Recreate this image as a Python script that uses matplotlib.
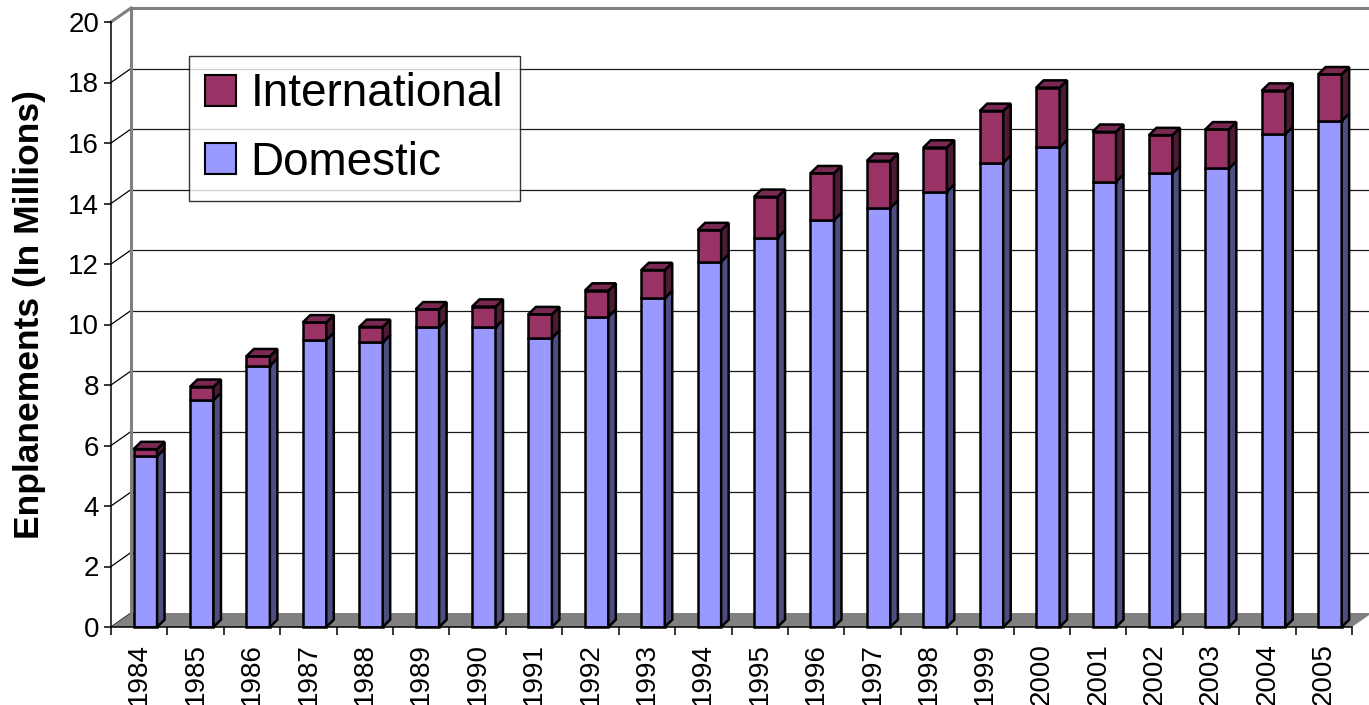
import matplotlib
matplotlib.use("Agg")
import matplotlib.pyplot as plt
from matplotlib.patches import Polygon, Rectangle, Patch
import numpy as np

# ---- data ----
years = [str(y) for y in range(1984, 2006)]
domestic = [5.65, 7.50, 8.64, 9.49, 9.41, 9.91, 9.91, 9.56, 10.26, 10.87, 12.08,
            12.87, 13.45, 13.86, 14.39, 15.35, 15.86, 14.72, 15.00, 15.16, 16.29, 16.73]
international = [0.23, 0.44, 0.31, 0.58, 0.51, 0.59, 0.68, 0.78, 0.86, 0.93, 1.04,
                 1.35, 1.55, 1.55, 1.46, 1.71, 1.97, 1.65, 1.26, 1.29, 1.44, 1.54]
y_ticks = list(range(0, 21, 2))
series_names = ["International", "Domestic"]

# ---- styling ----
plt.rcParams['font.family'] = ['Liberation Sans', 'DejaVu Sans']
W, H = 1369, 705
fig = plt.figure(figsize=(W / 100, H / 100), dpi=100)
fig.patch.set_facecolor('white')

left_px, right_px, bot_px, top_px = 111, 1352, 627, 22
ax = fig.add_axes([left_px / W, 1 - bot_px / H, (right_px - left_px) / W, (bot_px - top_px) / H])
n = len(years)
ax.set_xlim(0, n)
ax.set_ylim(0, 20)
ax.patch.set_visible(False)

pxx = (right_px - left_px) / n      # px per category
pxy = (bot_px - top_px) / 20.0      # px per unit
wdx, wdy = 20 / pxx, 14 / pxy       # wall depth
bdx, bdy = 7.5 / pxx, 7.3 / pxy     # bar depth

grey = '#808080'
# floor
ax.add_patch(Polygon([(0, 0), (n, 0), (n + wdx, wdy), (wdx, wdy)], closed=True,
                     fc=grey, ec='none', zorder=1, clip_on=False))
# back wall gridlines
for v in y_ticks[1:-1]:
    ax.plot([wdx, n + wdx], [v + wdy, v + wdy], color='#1a1a1a', lw=0.9,
            zorder=0.5, clip_on=False)
# side wall diagonals
for v in y_ticks[:-1]:
    ax.plot([0, wdx], [v, v + wdy], color='black', lw=0.9, zorder=0.6, clip_on=False)
# wall edges (grey)
ax.plot([wdx, wdx], [wdy, 20 + wdy], color=grey, lw=2.2, zorder=0.7, clip_on=False)
ax.plot([wdx, n + wdx], [20 + wdy, 20 + wdy], color=grey, lw=2.2, zorder=0.7, clip_on=False)
ax.plot([0, wdx], [20, 20 + wdy], color=grey, lw=2.2, zorder=0.7, clip_on=False)

dom_front, dom_side = '#9999FF', '#4D4D80'
int_front, int_side, int_top = '#993366', '#4D1A33', '#7A2952'
elw = 1.8

def draw_seg(i, b, t, front, side, top=None, z=3):
    x0 = i + 0.40
    x1 = x0 + 23.5 / pxx
    ax.add_patch(Rectangle((x0, b), x1 - x0, t - b, fc=front, ec='black', lw=elw,
                           zorder=z, clip_on=False, joinstyle='miter'))
    ax.add_patch(Polygon([(x1, b), (x1 + bdx, b + bdy), (x1 + bdx, t + bdy), (x1, t)],
                         closed=True, fc=side, ec='black', lw=elw, zorder=z,
                         clip_on=False, joinstyle='miter'))
    if top is not None:
        ax.add_patch(Polygon([(x0, t), (x1, t), (x1 + bdx, t + bdy), (x0 + bdx, t + bdy)],
                             closed=True, fc=top, ec='black', lw=elw, zorder=z,
                             clip_on=False, joinstyle='miter'))

for i in range(n):
    d = domestic[i]
    tot = d + international[i]
    draw_seg(i, 0, d, dom_front, dom_side, z=3 + i * 0.01)
    draw_seg(i, d, tot, int_front, int_side, int_top, z=3.005 + i * 0.01)

# axes
for s in ['top', 'right']:
    ax.spines[s].set_visible(False)
for s in ['left', 'bottom']:
    ax.spines[s].set_color('black')
    ax.spines[s].set_linewidth(1.1)
    ax.spines[s].set_zorder(10)

ax.set_yticks(y_ticks)
ax.set_yticklabels([str(v) for v in y_ticks], fontsize=20)
ax.tick_params(axis='y', direction='out', length=5, width=1.1, pad=3.5, colors='black')

ax.set_xticks(np.arange(n) + 0.5)
ax.set_xticklabels(years, rotation=90, fontsize=20)
ax.set_xticks(np.arange(n + 1), minor=True)
ax.tick_params(axis='x', which='major', length=0, pad=11.5)
ax.tick_params(axis='x', which='minor', length=6, width=1.1, direction='out')

ax.set_ylabel('Enplanements (In Millions)', fontsize=25.5, fontweight='bold')
ax.yaxis.set_label_coords((30 - left_px) / (right_px - left_px), (bot_px - 315) / (bot_px - top_px))
ax.yaxis.label.set_va('center')

handles = [Patch(fc=int_front, ec='black', lw=1.5), Patch(fc=dom_front, ec='black', lw=1.5)]
leg = ax.legend(handles, series_names, loc='upper left',
                bbox_to_anchor=(189 / W, 1 - 56 / H), bbox_transform=fig.transFigure,
                fontsize=33, frameon=True, fancybox=False, borderaxespad=0,
                handlelength=0.66, handleheight=0.68, handletextpad=0.32,
                borderpad=0.36, labelspacing=0.53)
leg.get_frame().set_edgecolor('black')
leg.get_frame().set_linewidth(1.0)
leg.set_zorder(20)

fig.savefig('out.png', dpi=100, facecolor='white')
